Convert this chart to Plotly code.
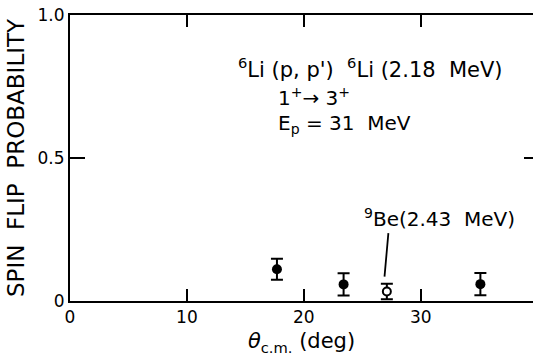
import plotly.graph_objects as go

# Data
theta_li = [17.7, 23.4, 35.1]
p_li = [0.111, 0.058, 0.059]
err_li = [0.037, 0.039, 0.039]

theta_be = [27.1]
p_be = [0.033]
err_be = [0.027]

x_ticks = [0, 10, 20, 30]
y_ticks = [0, 0.5, 1.0]
y_ticktext = ["0", "0.5", "1.0"]

FONT = "DejaVu Sans, Liberation Sans, sans-serif"
BLACK = "black"

fig = go.Figure()
fig.add_trace(go.Scatter(
    x=theta_li, y=p_li, mode="markers",
    marker=dict(symbol="circle", size=10, color="black"),
    error_y=dict(type="data", array=err_li, color="black", thickness=2, width=6),
    showlegend=False,
))
fig.add_trace(go.Scatter(
    x=theta_be, y=p_be, mode="markers",
    marker=dict(symbol="circle", size=8, color="white", line=dict(color="black", width=2)),
    error_y=dict(type="data", array=err_be, color="black", thickness=2, width=6),
    showlegend=False,
))
# invisible trace to create right-side tick
fig.add_trace(go.Scatter(x=[None], y=[None], yaxis="y2", showlegend=False))

fig.update_layout(
    width=533, height=360,
    margin=dict(l=70, r=0, t=15, b=59),
    paper_bgcolor="white", plot_bgcolor="white",
    font=dict(family=FONT, size=17, color=BLACK),
    xaxis=dict(
        range=[0, 39.6], tickvals=x_ticks, ticks="inside", ticklen=12, tickwidth=1.5,
        tickcolor="black", showline=True, linecolor="black", linewidth=2, mirror="ticks",
        showgrid=False, zeroline=False, tickfont=dict(size=17, color=BLACK, family=FONT),
        title=dict(text="<i>θ</i><sub>c.m.</sub> (deg)", font=dict(size=21, color=BLACK, family=FONT), standoff=7),
    ),
    yaxis=dict(
        range=[0, 1.0], tickvals=y_ticks, ticktext=y_ticktext, ticks="inside", ticklen=15,
        tickwidth=1.5, tickcolor="black", showline=True, linecolor="black", linewidth=2,
        showgrid=False, zeroline=False, tickfont=dict(size=17, color=BLACK, family=FONT),
        title=dict(text="SPIN  FLIP  PROBABILITY", font=dict(size=23, color=BLACK, family=FONT), standoff=7),
    ),
    yaxis2=dict(
        range=[0, 1.0], overlaying="y", side="right", tickvals=[0.5], ticks="inside",
        ticklen=9, tickwidth=1.5, tickcolor="black", showticklabels=False,
        showline=False, showgrid=False, zeroline=False,
    ),
)


def txt(s, px, py, size=20):
    fig.add_annotation(text=s, x=(px - 70) / 463, y=(301 - py) / 286,
                       xref="paper", yref="paper", xanchor="left", yanchor="middle",
                       showarrow=False, font=dict(size=size, family=FONT, color=BLACK))


txt("<sup>6</sup>Li (p, p')  <sup>6</sup>Li (2.18  MeV)", 236, 68, 21)
txt("1<sup>+</sup>→ 3<sup>+</sup>", 276, 97)
txt("E<sub>p</sub> = 31  MeV", 276, 124)
txt("<sup>9</sup>Be(2.43  MeV)", 362, 218)

# pointer line to the open point
fig.add_annotation(text="", x=theta_be[0] - 0.2, y=p_be[0] + err_be[0] + 0.025,
                   xref="x", yref="y", showarrow=True, arrowhead=0, arrowwidth=1.8,
                   arrowcolor="black", ax=4, ay=-45, standoff=0)

fig.write_html("out.html")
